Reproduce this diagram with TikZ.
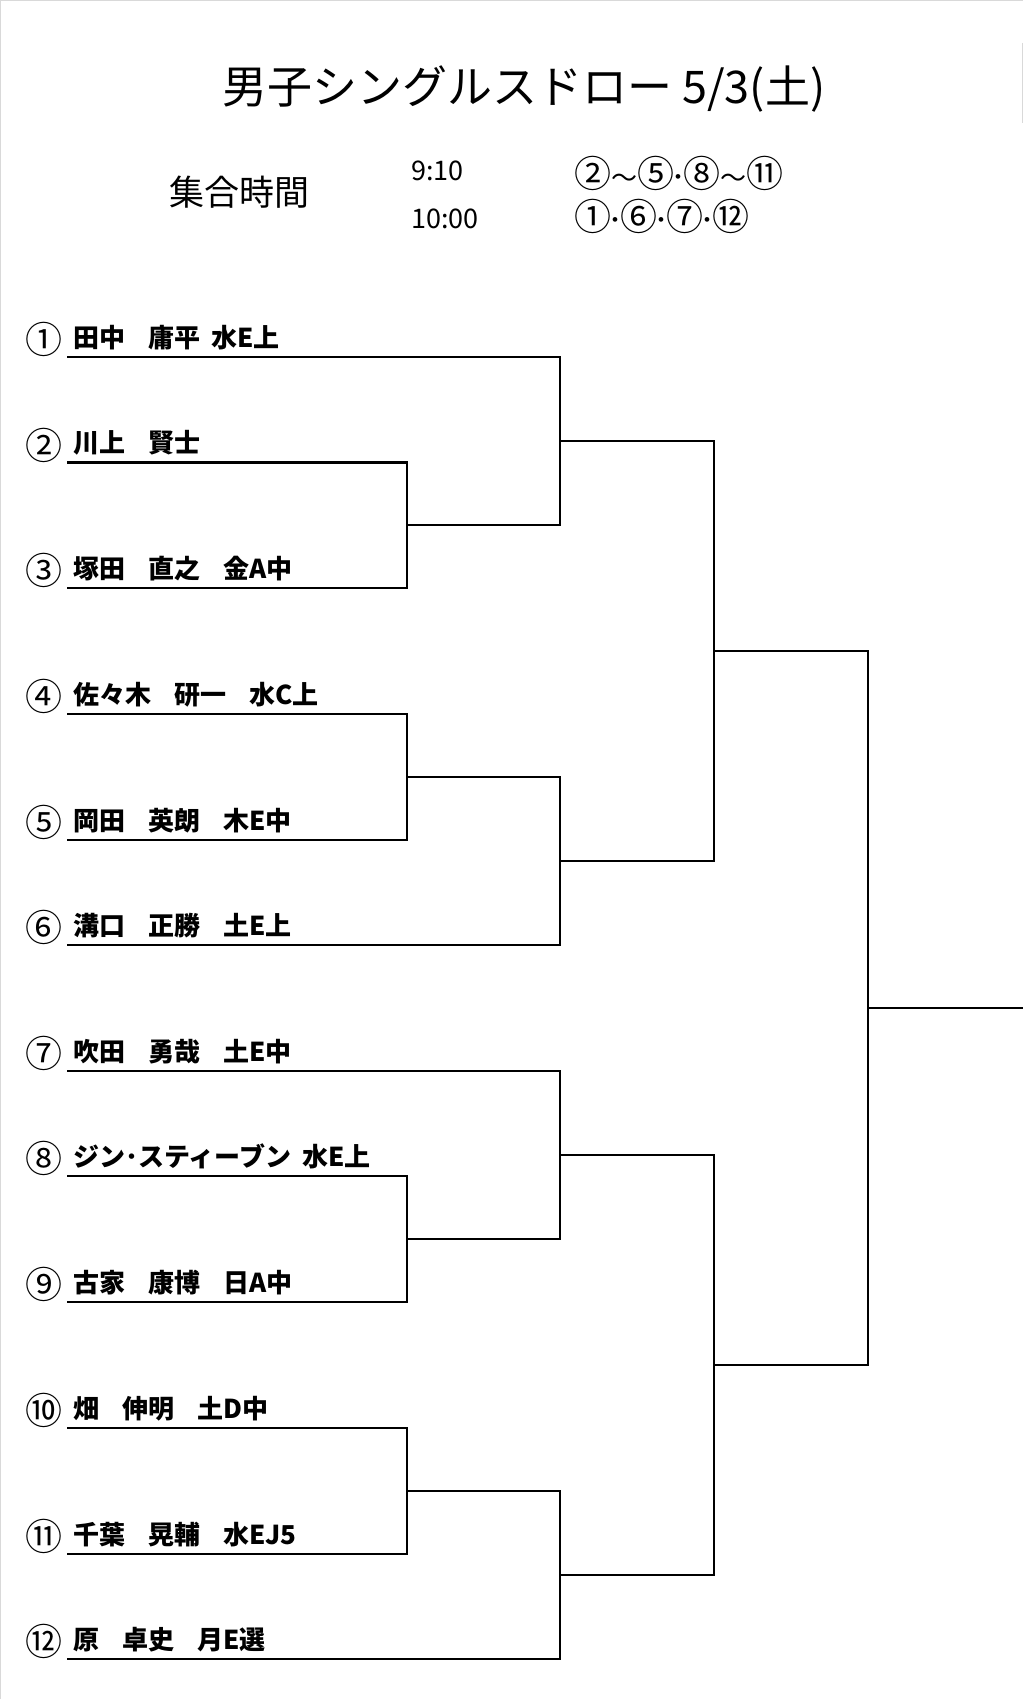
\documentclass[tikz,border=0pt]{standalone}
\usepackage{fontspec}
\newfontfamily\jp{Noto Sans CJK JP}
\newcommand\gapF{\kern23pt}
\newcommand\gapH{\kern11pt}
\newcommand\cn[1]{{\fontsize{37pt}{40pt}\selectfont #1}}
\newcommand\tl{{\fontsize{26pt}{30pt}\selectfont ～}}
\newcommand\dt{{\kern-2.5pt\fontsize{28pt}{32pt}\selectfont ･\kern-2.5pt}}
\begin{document}
\begin{tikzpicture}[x=1pt,y=-1pt,
  bline/.style={line width=2.2pt, line join=miter, black},
  edge/.style={line width=1.2pt, color=black!15},
  lbl/.style={anchor=base west, inner sep=0pt, font=\jp\bfseries\fontsize{26pt}{30pt}\selectfont},
  num/.style={anchor=base west, inner sep=0pt, font=\jp\fontsize{37pt}{40pt}\selectfont},
  hdr/.style={anchor=base west, inner sep=0pt}]
\useasboundingbox (0,0) rectangle (1023,1699);
\fill[white] (0,0) rectangle (1023,1699);
% faint page edges
\draw[edge] (0,0.6) -- (1023,0.6);
\draw[edge] (0.6,0) -- (0.6,1699);
\draw[edge] (1022.4,43) -- (1022.4,123);

% header
\node[hdr, font=\jp\fontsize{45pt}{49pt}\selectfont] (title) at (222,104) {男子シングルスドロー 5/3(土)};
\node[hdr, font=\jp\fontsize{35pt}{39pt}\selectfont] (gather) at (169,206) {集合時間};
\node[hdr, font=\jp\fontsize{27pt}{31pt}\selectfont] (t1) at (411,181) {9:10};
\node[hdr, font=\jp\fontsize{27pt}{31pt}\selectfont] (t2) at (411,229) {10:00};
\node[hdr, font=\jp] (g1) at (574,188) {\cn{②}\tl\cn{⑤}\dt\cn{⑧}\tl\cn{⑪}};
\node[hdr, font=\jp] (g2) at (574,230.5) {\cn{①}\dt\cn{⑥}\dt\cn{⑦}\dt\cn{⑫}};

% line start coordinates
\coordinate (s1) at (67,357);
\coordinate (s2) at (67,462.5);
\coordinate (s3) at (67,588);
\coordinate (s4) at (67,714);
\coordinate (s5) at (67,840);
\coordinate (s6) at (67,945);
\coordinate (s7) at (67,1071);
\coordinate (s8) at (67,1176);
\coordinate (s9) at (67,1302);
\coordinate (s10) at (67,1428);
\coordinate (s11) at (67,1554);
\coordinate (s12) at (67,1659);

% circled numbers
\node[num] (n1) at (25.5,353.5) {①};
\node[num] (n2) at (25.5,459) {②};
\node[num] (n3) at (25.5,584.5) {③};
\node[num] (n4) at (25.5,710.5) {④};
\node[num] (n5) at (25.5,836.5) {⑤};
\node[num] (n6) at (25.5,941.5) {⑥};
\node[num] (n7) at (25.5,1067.5) {⑦};
\node[num] (n8) at (25.5,1172.5) {⑧};
\node[num] (n9) at (25.5,1298.5) {⑨};
\node[num] (n10) at (25.5,1424.5) {⑩};
\node[num] (n11) at (25.5,1550.5) {⑪};
\node[num] (n12) at (25.5,1655.5) {⑫};

% player labels
\node[lbl] (p1) at (73,347) {田中\gapF 庸平\gapH 水E上};
\node[lbl] (p2) at (73,452.5) {川上\gapF 賢士};
\node[lbl] (p3) at (73,578) {塚田\gapF 直之\gapF 金A中};
\node[lbl] (p4) at (73,704) {佐々木\gapF 研一\gapF 水C上};
\node[lbl] (p5) at (73,830) {岡田\gapF 英朗\gapF 木E中};
\node[lbl] (p6) at (73,935) {溝口\gapF 正勝\gapF 土E上};
\node[lbl] (p7) at (73,1061) {吹田\gapF 勇哉\gapF 土E中};
\node[lbl] (p8) at (73,1166) {ジン･スティーブン\gapH 水E上};
\node[lbl] (p9) at (73,1292) {古家\gapF 康博\gapF 日A中};
\node[lbl] (p10) at (73,1418) {畑\gapF 伸明\gapF 土D中};
\node[lbl] (p11) at (73,1544) {千葉\gapF 晃輔\gapF 水EJ5};
\node[lbl] (p12) at (73,1649) {原\gapF 卓史\gapF 月E選};

% match points
\coordinate (ma) at (407,525.25);
\coordinate (mb) at (407,777);
\coordinate (mc) at (407,1239);
\coordinate (md) at (407,1491);
\coordinate (me) at (560,441.1);
\coordinate (mf) at (560,861);
\coordinate (mg) at (560,1155);
\coordinate (mh) at (560,1575);
\coordinate (mi) at (714,651);
\coordinate (mj) at (714,1365);
\coordinate (mk) at (868,1008);
\coordinate (champ) at (1023,1008);

% first round
\draw[bline] (s2) -| (ma) |- (s3);
\draw[bline] (s4) -| (mb) |- (s5);
\draw[bline] (s8) -| (mc) |- (s9);
\draw[bline] (s10) -| (md) |- (s11);
% second round
\draw[bline] (s1) -| (me) |- (ma);
\draw[bline] (mb) -| (mf) |- (s6);
\draw[bline] (s7) -| (mg) |- (mc);
\draw[bline] (md) -| (mh) |- (s12);
% semifinals
\draw[bline] (me) -| (mi) |- (mf);
\draw[bline] (mg) -| (mj) |- (mh);
% final
\draw[bline] (mi) -| (mk) |- (mj);
\draw[bline] (mk) -- (champ);
\end{tikzpicture}
\end{document}
